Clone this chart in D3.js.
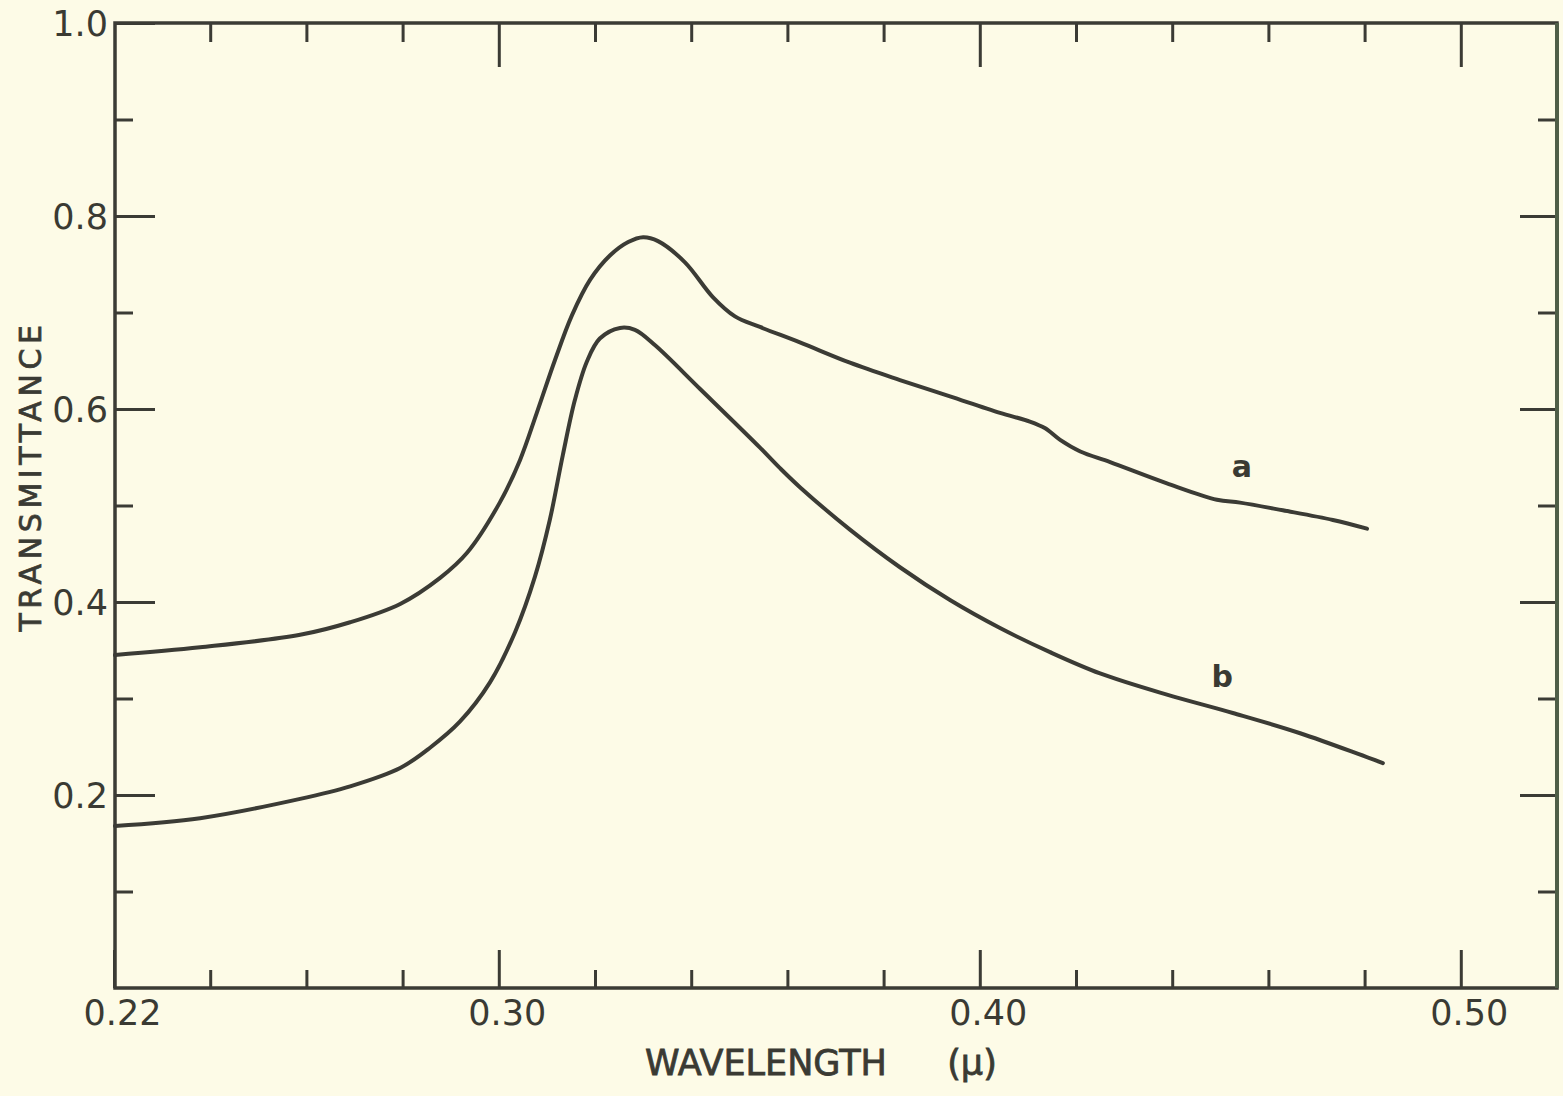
<html>
<head>
<title>Transmittance</title>
<script src="https://cdn.jsdelivr.net/npm/d3@7"></script>
<style>
  body { margin: 0; background: #fdfbe7; }
  text { font-family: "DejaVu Sans", sans-serif; fill: #3a3a33; }
</style>
</head>
<body>
<script>
// wavelength (micron) and transmittance
let wlA = [0.2202, 0.2379, 0.2587, 0.2691, 0.2795, 0.2878, 0.2934, 0.3002, 0.3044, 0.3079, 0.3117,
           0.3152, 0.3190, 0.3231, 0.3269, 0.3300, 0.3331, 0.3387, 0.3445, 0.3491, 0.3543,
           0.3626, 0.3730, 0.3834, 0.3938, 0.4042, 0.4104, 0.4136, 0.4167, 0.4209, 0.4271,
           0.4389, 0.4493, 0.4541, 0.4630, 0.4734, 0.4805]
let tA  = [0.345, 0.353, 0.366, 0.379, 0.398, 0.425, 0.451, 0.503, 0.547, 0.596, 0.651,
           0.697, 0.734, 0.759, 0.773, 0.778, 0.774, 0.752, 0.716, 0.696, 0.685,
           0.669, 0.648, 0.630, 0.613, 0.596, 0.587, 0.580, 0.568, 0.556, 0.545,
           0.523, 0.506, 0.503, 0.495, 0.485, 0.476]

let wlB = [0.2202, 0.2379, 0.2587, 0.2691, 0.2795, 0.2857, 0.2919, 0.2982, 0.3034, 0.3075, 0.3106,
           0.3133, 0.3158, 0.3183, 0.3210, 0.3252, 0.3283, 0.3325, 0.3418, 0.3543, 0.3584, 0.3626,
           0.3730, 0.3834, 0.3938, 0.4042, 0.4146, 0.4250, 0.4389, 0.4526, 0.4666, 0.4838]
let tB  = [0.168, 0.176, 0.196, 0.209, 0.228, 0.249, 0.276, 0.317, 0.369, 0.426, 0.485,
           0.552, 0.609, 0.649, 0.673, 0.684, 0.682, 0.666, 0.621, 0.560, 0.539, 0.519,
           0.475, 0.436, 0.402, 0.373, 0.348, 0.326, 0.304, 0.285, 0.264, 0.233]

let xMinor = [0.24, 0.26, 0.28, 0.32, 0.34, 0.36, 0.38, 0.42, 0.44, 0.46, 0.48]
let xMajor = [0.30, 0.40, 0.50]
let xLabels = [0.22, 0.30, 0.40, 0.50]
let yMinor = [0.1, 0.3, 0.5, 0.7, 0.9]
let yMajor = [0.2, 0.4, 0.6, 0.8]
let yLabels = [0.2, 0.4, 0.6, 0.8, 1.0]

let curveLabels = [{text: "a", wl: 0.4545, t: 0.530}, {text: "b", wl: 0.4504, t: 0.312}]

let w = 1563, h = 1096
let plotL = 115, plotR = 1557, plotT = 23, plotB = 988
let ink = "#3b3b35"

let svg = d3.select("body").append("svg").attr("width", w).attr("height", h)

let x = d3.scaleLinear().domain([0.22, 0.52]).range([plotL - 1, plotR])
let y = d3.scaleLinear().domain([0, 1]).range([plotB, plotT])

function addAxis(axis, tx, ty) {
    let g = svg.append("g")
        .attr("transform", "translate(" + tx + "," + ty + ")")
        .call(axis)
    g.select(".domain").remove()
    g.selectAll("line").attr("stroke", ink).attr("stroke-width", 3)
    return g
}

// bottom
addAxis(d3.axisBottom(x).tickValues(xMinor).tickSize(-18).tickFormat(""), 0, plotB)
let xb = addAxis(d3.axisBottom(x).tickValues(xLabels).tickSize(-38).tickPadding(12)
    .tickFormat(d3.format(".2f")), 0, plotB)
xb.selectAll("text").attr("font-size", 35).attr("dx", 8).style("fill", "#3a3a33")
// top
addAxis(d3.axisTop(x).tickValues(xMinor).tickSize(-19).tickFormat(""), 0, plotT)
addAxis(d3.axisTop(x).tickValues(xMajor).tickSize(-44).tickFormat(""), 0, plotT)
// left
addAxis(d3.axisLeft(y).tickValues(yMinor).tickSize(-18).tickFormat(""), plotL, 0)
let yl = addAxis(d3.axisLeft(y).tickValues(yLabels).tickSize(-40).tickPadding(7)
    .tickFormat(d3.format(".1f")), plotL, 0)
yl.selectAll("text").attr("font-size", 35).attr("dy", "0.36em").style("fill", "#3a3a33")
// right
addAxis(d3.axisRight(y).tickValues(yMinor).tickSize(-19).tickFormat(""), plotR, 0)
addAxis(d3.axisRight(y).tickValues(yMajor).tickSize(-37).tickFormat(""), plotR, 0)

// frame
svg.append("path")
    .attr("d", "M" + plotL + "," + plotT + "H" + plotR + "V" + plotB + "H" + plotL + "Z")
    .attr("fill", "none")
    .attr("stroke", ink)
    .attr("stroke-width", 3.5)
svg.append("line")
    .attr("x1", plotR).attr("x2", plotR).attr("y1", plotT).attr("y2", plotB)
    .attr("stroke", "#4f5e48").attr("stroke-width", 4)

// curves
let line = d3.line()
    .x((d) => x(d[0]))
    .y((d) => y(d[1]))
    .curve(d3.curveCatmullRom.alpha(0.5))

let series = [d3.zip(wlA, tA), d3.zip(wlB, tB)]
svg.selectAll(".curve")
    .data(series)
    .enter()
    .append("path")
    .attr("class", "curve")
    .attr("d", line)
    .attr("fill", "none")
    .attr("stroke", ink)
    .attr("stroke-width", 4)
    .attr("stroke-linejoin", "round")
    .attr("stroke-linecap", "round")

svg.selectAll(".clabel")
    .data(curveLabels)
    .enter()
    .append("text")
    .attr("class", "clabel")
    .attr("x", (d) => x(d.wl))
    .attr("y", (d) => y(d.t))
    .attr("text-anchor", "middle")
    .attr("font-size", 30)
    .attr("font-weight", "bold")
    .text((d) => d.text)

// axis titles
svg.append("text")
    .attr("x", 766).attr("y", 1075)
    .attr("text-anchor", "middle")
    .attr("font-size", 35)
    .attr("stroke", "#3a3a33").attr("stroke-width", 0.8)
    .text("WAVELENGTH")
svg.append("text")
    .attr("x", 972).attr("y", 1075)
    .attr("text-anchor", "middle")
    .attr("font-size", 35)
    .attr("stroke", "#3a3a33").attr("stroke-width", 0.8)
    .text("(μ)")

svg.append("text")
    .attr("transform", "translate(41,476) rotate(-90)")
    .attr("text-anchor", "middle")
    .attr("font-size", 30)
    .attr("letter-spacing", 4.6)
    .attr("stroke", "#3a3a33").attr("stroke-width", 0.7)
    .text("TRANSMITTANCE")
</script>
</body>
</html>
